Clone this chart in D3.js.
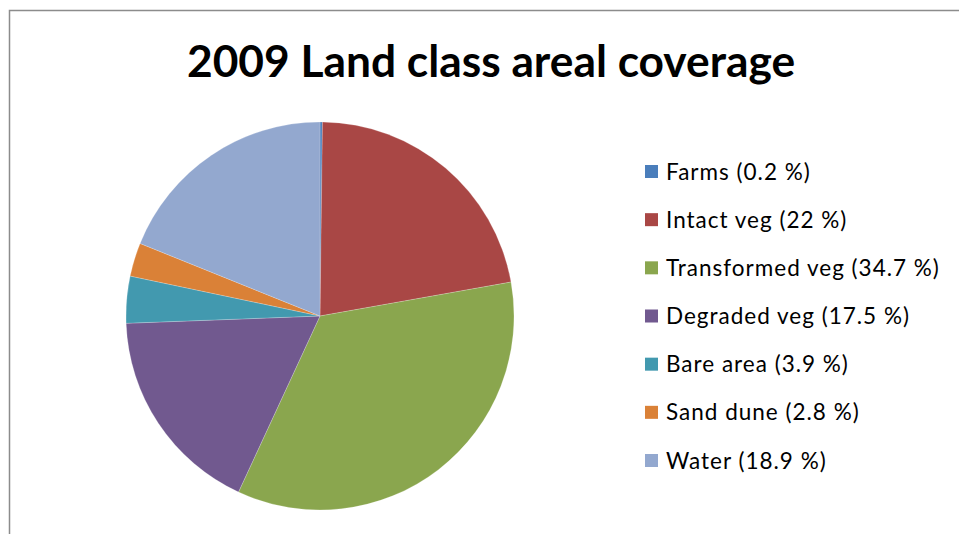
<!DOCTYPE html>
<html>
<head>
<meta charset="utf-8">
<script src="https://cdn.jsdelivr.net/npm/d3@7"></script>
<style>
  html, body { margin: 0; padding: 0; background: #fff; }
  svg { display: block; }
</style>
</head>
<body>
<svg id="chart" width="959" height="534"></svg>
<script>
// Land class shares for 2009 (percent of total area)
const categories = ["Farms", "Intact veg", "Transformed veg", "Degraded veg", "Bare area", "Sand dune", "Water"];
const shares = [0.2, 22, 34.7, 17.5, 3.9, 2.8, 18.9];
const sliceColors = ["#4A7EBB", "#A94745", "#8AA64E", "#71598F", "#4299AF", "#DA8137", "#93A8CF"];
const titleText = "2009 Land class areal coverage";

const svg = d3.select("#chart");
const W = 959, H = 534;
const fontFamily = "Lato, 'Open Sans', sans-serif";

// chart-area frame (only top and left edges fall inside the view)
svg.append("rect")
  .attr("x", 9.5).attr("y", 10.5)
  .attr("width", W + 20).attr("height", H + 20)
  .attr("fill", "#fff")
  .attr("stroke", "#8c8c8c")
  .attr("stroke-width", 1.5);

// title
svg.append("text")
  .attr("x", 491).attr("y", 77)
  .attr("text-anchor", "middle")
  .attr("font-family", fontFamily)
  .attr("font-weight", "bold")
  .attr("font-size", 44.3)
  .attr("fill", "#000")
  .text(titleText);

const data = categories.map((c, i) => ({ name: c, value: shares[i], color: sliceColors[i] }));

// pie, clockwise from 12 o'clock in series order
const pie = d3.pie().value(d => d.value).sort(null);
const radius = 194;
const arc = d3.arc().innerRadius(0).outerRadius(radius);

const g = svg.append("g").attr("transform", "translate(320,316)");
g.selectAll("path")
  .data(pie(data))
  .join("path")
  .attr("d", arc)
  .attr("fill", d => d.data.color)
  .attr("stroke", "rgba(255,255,255,0.35)")
  .attr("stroke-width", 0.6);

// legend
const legendY = d3.scalePoint().domain(categories).range([172, 461]);
const leg = svg.append("g");
const item = leg.selectAll("g")
  .data(data)
  .join("g")
  .attr("transform", d => `translate(645,${legendY(d.name)})`);
item.append("rect")
  .attr("x", 0).attr("y", -7)
  .attr("width", 13).attr("height", 13)
  .attr("fill", d => d.color);
item.append("text")
  .attr("x", 21).attr("y", 7.5)
  .attr("font-family", fontFamily)
  .attr("font-size", 22.5)
  .attr("letter-spacing", 1)
  .attr("fill", "#000")
  .text(d => `${d.name} (${d.value} %)`);
</script>
</body>
</html>
